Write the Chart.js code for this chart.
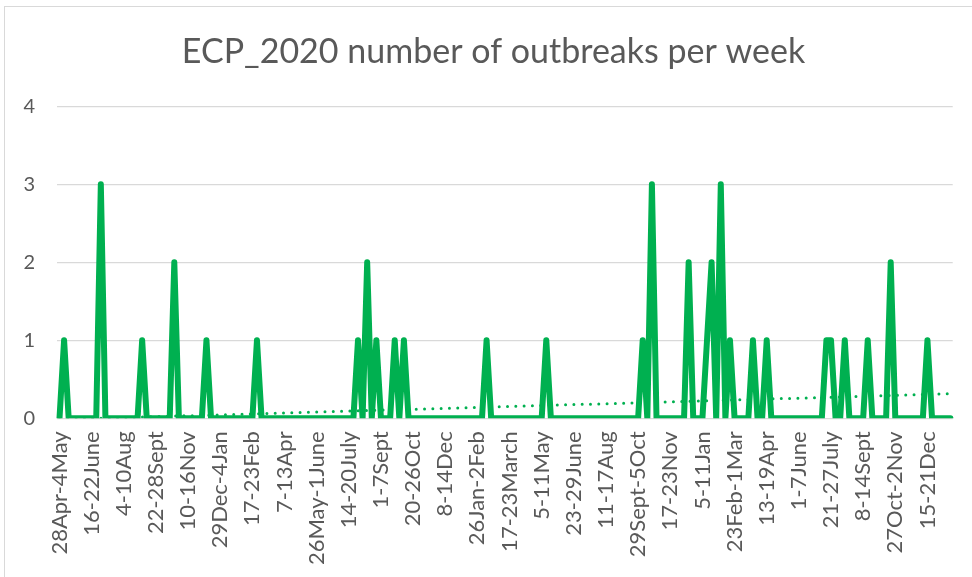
<!DOCTYPE html>
<html>
<head>
<meta charset="utf-8">
<script src="https://cdn.jsdelivr.net/npm/chart.js@4.4.0/dist/chart.umd.min.js"></script>
<style>
  html, body { margin: 0; padding: 0; background: #fff; overflow: hidden; }
  #frame { position: absolute; left: 4px; top: 6px; width: 1000px; height: 600px; border: 1px solid #d9d9d9; }
  #wrap { position: absolute; left: 0; top: 0; width: 972px; height: 577px; }
</style>
</head>
<body>
<div id="frame"></div>
<div id="wrap"><canvas id="chart" width="972" height="577"></canvas></div>
<script>
const chartTitle = 'ECP_2020 number of outbreaks per week';

// one label shown every 7 weeks
const tickLabels = [
  '28Apr-4May', '16-22June', '4-10Aug', '22-28Sept', '10-16Nov', '29Dec-4Jan', '17-23Feb',
  '7-13Apr', '26May-1June', '14-20July', '1-7Sept', '20-26Oct', '8-14Dec', '26Jan-2Feb',
  '17-23March', '5-11May', '23-29June', '11-17Aug', '29Sept-5Oct', '17-23Nov', '5-11Jan',
  '23Feb-1Mar', '13-19Apr', '1-7June', '21-27July', '8-14Sept', '27Oct-2Nov', '15-21Dec'
];
const weeksPerTick = 7;

// outbreaks per week (195 weeks)
const outbreaks = [
  0,1,0,0,0,0,0,0,0,3,0,0,0,
  0,0,0,0,0,1,0,0,0,0,0,0,2,
  0,0,0,0,0,0,1,0,0,0,0,0,0,
  0,0,0,0,1,0,0,0,0,0,0,0,0,
  0,0,0,0,0,0,0,0,0,0,0,0,0,
  1,0,2,0,1,0,0,0,1,0,1,0,0,
  0,0,0,0,0,0,0,0,0,0,0,0,0,
  0,0,1,0,0,0,0,0,0,0,0,0,0,
  0,0,1,0,0,0,0,0,0,0,0,0,0,
  0,0,0,0,0,0,0,0,0,0,1,0,3,
  0,0,0,0,0,0,0,2,0,0,0,1,2,
  0,3,0,1,0,0,0,0,1,0,0,1,0,
  0,0,0,0,0,0,0,0,0,0,0,1,1,
  0,0,1,0,0,0,0,1,0,0,0,0,2,
  0,0,0,0,0,0,0,1,0,0,0,0,0
];

// linear trendline, value at first and last week
const trendEnds = [-0.015, 0.315];

const yTicks = [0, 1, 2, 3, 4];

const categories = outbreaks.map((v, i) =>
  i % weeksPerTick === 0 && tickLabels[i / weeksPerTick] ? tickLabels[i / weeksPerTick] : '');

const trend = outbreaks.map(() => null);
trend[0] = trendEnds[0];
trend[trend.length - 1] = trendEnds[1];

const green = '#00B050';
const textGray = '#595959';

const titlePlugin = {
  id: 'excelTitle',
  afterDraw(chart) {
    const ctx = chart.ctx;
    ctx.save();
    ctx.font = '34px Lato';
    ctx.fillStyle = textGray;
    ctx.textAlign = 'center';
    ctx.textBaseline = 'alphabetic';
    ctx.fillText(chartTitle, 493.5, 63);
    ctx.restore();
  }
};

new Chart(document.getElementById('chart'), {
  type: 'line',
  data: {
    labels: categories,
    datasets: [{
      label: 'outbreaks',
      data: outbreaks,
      borderColor: green,
      borderWidth: 6,
      borderJoinStyle: 'round',
      borderCapStyle: 'round',
      pointRadius: 0,
      tension: 0
    }, {
      label: 'Linear trend',
      data: trend,
      spanGaps: true,
      borderColor: green,
      borderWidth: 3,
      borderDash: [0, 8.3],
      borderCapStyle: 'round',
      pointRadius: 0,
      tension: 0
    }]
  },
  options: {
    responsive: false,
    animation: false,
    layout: { padding: { top: 106.3, right: 19.3, left: 0, bottom: 0 } },
    plugins: {
      legend: { display: false },
      tooltip: { enabled: false },
      title: { display: false }
    },
    scales: {
      x: {
        offset: true,
        grid: { display: false, drawTicks: false },
        border: { display: false },
        ticks: {
          autoSkip: false,
          minRotation: 90,
          maxRotation: 90,
          padding: 13,
          color: textGray,
          font: { family: 'Lato', size: 22 }
        },
        afterFit(scale) {
          scale.height = 158.7;
          scale.paddingLeft = 0;
          scale.paddingRight = 0;
        }
      },
      y: {
        min: 0,
        max: 4,
        afterBuildTicks(scale) { scale.ticks = yTicks.map(v => ({ value: v })); },
        grid: { color: '#d9d9d9', lineWidth: 1.3, drawTicks: false },
        border: { display: false },
        ticks: {
          padding: 22,
          color: textGray,
          font: { family: 'Lato', size: 20 }
        },
        afterFit(scale) { scale.width = 57.2; }
      }
    }
  },
  plugins: [titlePlugin]
});
</script>
</body>
</html>
